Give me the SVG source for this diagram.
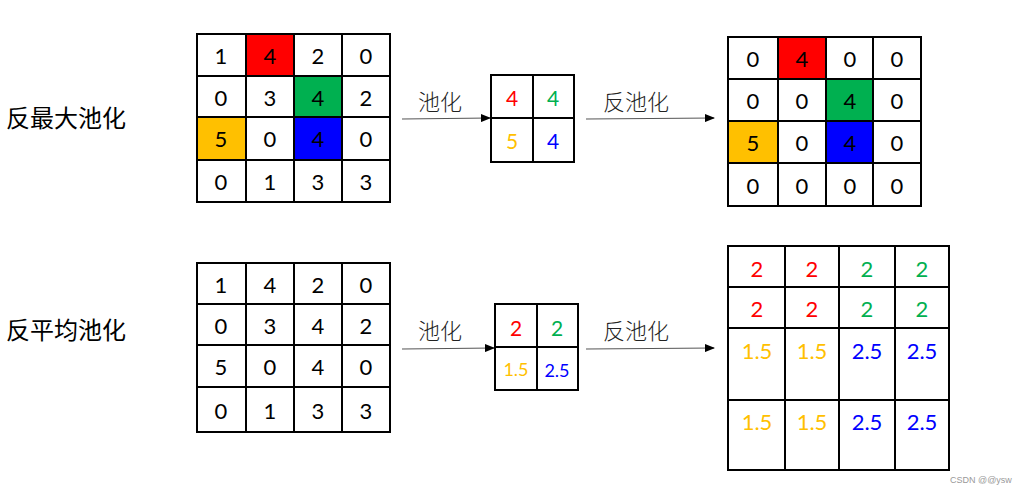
<svg xmlns="http://www.w3.org/2000/svg" width="1026" height="494" viewBox="0 0 1026 494">
<defs>
<marker id="ah" markerWidth="10" markerHeight="8" refX="9" refY="4" orient="auto" markerUnits="userSpaceOnUse">
<path d="M0,0 L10,4 L0,8 z" fill="#000"/>
</marker>
<style>
.g{fill:none;stroke:#000;stroke-width:2}
.n{font-family:Lato,"Open Sans",sans-serif;font-size:22px;text-anchor:middle;dominant-baseline:central;fill:#000}
.s{font-size:21px}
.t{font-size:18px}
.lb{font-family:"Noto Sans CJK SC",sans-serif;font-size:24px;fill:#000}
.al{font-family:"Noto Sans CJK SC",sans-serif;font-size:22px;fill:#222;font-weight:300}
.c{stroke:#555;stroke-width:1.2;fill:none;marker-end:url(#ah)}
.r{fill:#ff0000}.gr{fill:#00b050}.y{fill:#ffc000}.b{fill:#0000ff}
</style>
</defs>
<rect width="1026" height="494" fill="#fff"/>

<text class="lb" x="6" y="127">反最大池化</text>
<text class="lb" x="6" y="339">反平均池化</text>

<g id="grid1">
<rect x="246" y="34" width="48" height="42" class="r"/>
<rect x="294" y="76" width="48" height="41" class="gr"/>
<rect x="197" y="117" width="49" height="43" class="y"/>
<rect x="294" y="117" width="48" height="43" class="b"/>
<rect x="197" y="34" width="193" height="168" class="g"/>
<path class="g" d="M246,34V202M294,34V202M342,34V202M197,76H390M197,117H390M197,160H390"/>
<text class="n" x="221" y="55">1</text><text class="n" x="270" y="55">4</text><text class="n" x="318" y="55">2</text><text class="n" x="366" y="55">0</text>
<text class="n" x="221" y="97">0</text><text class="n" x="270" y="97">3</text><text class="n" x="318" y="97">4</text><text class="n" x="366" y="97">2</text>
<text class="n" x="221" y="138">5</text><text class="n" x="270" y="138">0</text><text class="n" x="318" y="138">4</text><text class="n" x="366" y="138">0</text>
<text class="n" x="221" y="181">0</text><text class="n" x="270" y="181">1</text><text class="n" x="318" y="181">3</text><text class="n" x="366" y="181">3</text>
</g>

<g id="grid2">
<rect x="491" y="75" width="83" height="87" class="g"/>
<path class="g" d="M533,75V162M491,118H574"/>
<text class="n s r" x="512" y="97">4</text><text class="n s gr" x="553" y="97">4</text>
<text class="n s y" x="512" y="140">5</text><text class="n s b" x="553" y="140">4</text>
</g>

<g id="grid3">
<rect x="778" y="37" width="48" height="42" class="r"/>
<rect x="826" y="79" width="47" height="42" class="gr"/>
<rect x="728" y="121" width="50" height="42" class="y"/>
<rect x="826" y="121" width="47" height="42" class="b"/>
<rect x="728" y="37" width="193" height="169" class="g"/>
<path class="g" d="M778,37V206M826,37V206M873,37V206M728,79H921M728,121H921M728,163H921"/>
<text class="n" x="753" y="58">0</text><text class="n" x="802" y="58">4</text><text class="n" x="850" y="58">0</text><text class="n" x="897" y="58">0</text>
<text class="n" x="753" y="100">0</text><text class="n" x="802" y="100">0</text><text class="n" x="850" y="100">4</text><text class="n" x="897" y="100">0</text>
<text class="n" x="753" y="142">5</text><text class="n" x="802" y="142">0</text><text class="n" x="850" y="142">4</text><text class="n" x="897" y="142">0</text>
<text class="n" x="753" y="185">0</text><text class="n" x="802" y="185">0</text><text class="n" x="850" y="185">0</text><text class="n" x="897" y="185">0</text>
</g>

<g id="grid4">
<rect x="197" y="263" width="193" height="169" class="g"/>
<path class="g" d="M246,263V432M294,263V432M342,263V432M197,304H390M197,345H390M197,387H390"/>
<text class="n" x="221" y="284">1</text><text class="n" x="270" y="284">4</text><text class="n" x="318" y="284">2</text><text class="n" x="366" y="284">0</text>
<text class="n" x="221" y="325">0</text><text class="n" x="270" y="325">3</text><text class="n" x="318" y="325">4</text><text class="n" x="366" y="325">2</text>
<text class="n" x="221" y="366">5</text><text class="n" x="270" y="366">0</text><text class="n" x="318" y="366">4</text><text class="n" x="366" y="366">0</text>
<text class="n" x="221" y="410">0</text><text class="n" x="270" y="410">1</text><text class="n" x="318" y="410">3</text><text class="n" x="366" y="410">3</text>
</g>

<g id="grid5">
<rect x="495" y="304" width="83" height="86" class="g"/>
<path class="g" d="M537,304V390M495,347H578"/>
<text class="n s r" x="516" y="327">2</text><text class="n s gr" x="557" y="327">2</text>
<text class="n t y" x="516" y="369">1.5</text><text class="n t b" x="557" y="370">2.5</text>
</g>

<g id="grid6">
<rect x="728" y="246" width="221" height="224" class="g"/>
<path class="g" d="M785,246V470M839,246V470M895,246V470M728,287H949M728,328H949M728,400H949"/>
<text class="n r" x="757" y="268">2</text><text class="n r" x="812" y="268">2</text><text class="n gr" x="867" y="268">2</text><text class="n gr" x="922" y="268">2</text>
<text class="n r" x="757" y="308">2</text><text class="n r" x="812" y="308">2</text><text class="n gr" x="867" y="308">2</text><text class="n gr" x="922" y="308">2</text>
<text class="n y" x="757" y="350">1.5</text><text class="n y" x="812" y="350">1.5</text><text class="n b" x="867" y="350">2.5</text><text class="n b" x="922" y="350">2.5</text>
<text class="n y" x="757" y="421">1.5</text><text class="n y" x="812" y="421">1.5</text><text class="n b" x="867" y="421">2.5</text><text class="n b" x="922" y="421">2.5</text>
</g>

<g id="connectors">
<line class="c" x1="402" y1="119" x2="490" y2="118"/>
<text class="al" x="418" y="110">池化</text>
<line class="c" x1="586" y1="119" x2="714" y2="118"/>
<text class="al" x="603" y="110">反池化</text>
<line class="c" x1="402" y1="349" x2="494" y2="348"/>
<text class="al" x="418" y="339">池化</text>
<line class="c" x1="586" y1="349" x2="714" y2="348"/>
<text class="al" x="603" y="339">反池化</text>
</g>

<text x="950" y="483" font-family="'Liberation Sans',sans-serif" font-size="9" fill="#999">CSDN @@ysw</text>
</svg>
